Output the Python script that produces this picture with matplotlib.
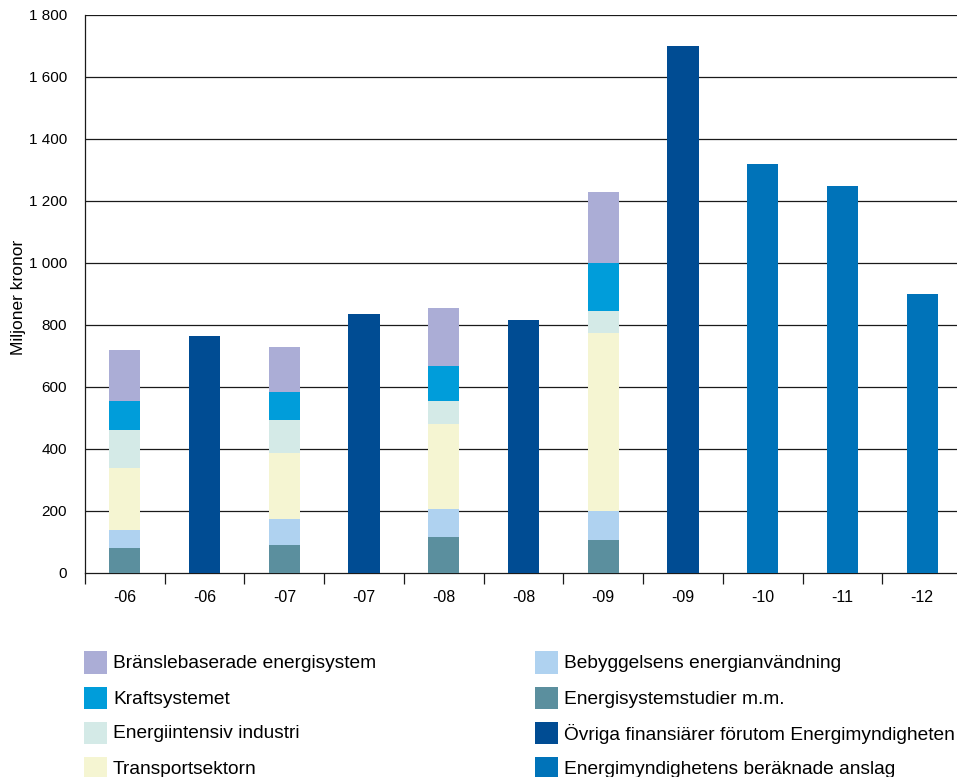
import matplotlib
matplotlib.use("Agg")
import matplotlib.pyplot as plt
from matplotlib.patches import Rectangle
import numpy as np

plt.rcParams['font.family'] = ['Liberation Sans', 'DejaVu Sans']

# Categories along the x axis
labels = ["-06", "-06", "-07", "-07", "-08", "-08", "-09", "-09", "-10", "-11", "-12"]

# Stacked bars (program areas) at positions 0, 2, 4, 6
stack_pos = [0, 2, 4, 6]
energisystemstudier = [80, 90, 116, 106]
bebyggelsen = [58, 84, 91, 93]
transport = [200, 212, 273, 574]
energiintensiv = [122, 106, 75, 72]
kraftsystemet = [95, 91, 113, 156]
branslebaserade = [163, 146, 187, 229]

# Other funders, at positions 1, 3, 5, 7
ovriga_pos = [1, 3, 5, 7]
ovriga = [764, 835, 815, 1700]

# Agency's estimated appropriation, at positions 8, 9, 10
anslag_pos = [8, 9, 10]
anslag = [1320, 1250, 900]

series = [
    ("Energisystemstudier m.m.", energisystemstudier, "#5b8f9e"),
    ("Bebyggelsens energianvändning", bebyggelsen, "#afd2f0"),
    ("Transportsektorn", transport, "#f5f5d2"),
    ("Energiintensiv industri", energiintensiv, "#d4eae7"),
    ("Kraftsystemet", kraftsystemet, "#009dda"),
    ("Bränslebaserade energisystem", branslebaserade, "#abadd6"),
]
c_ovriga = "#004c93"
c_anslag = "#0073b9"

W, H = 957, 777
fig = plt.figure(figsize=(W / 100, H / 100), dpi=100)
ax = fig.add_axes([85 / W, (H - 573) / H, 877 / W, 558 / H])

bw = 0.39
bottom = np.zeros(len(stack_pos))
for name, vals, col in series:
    ax.bar(stack_pos, vals, bw, bottom=bottom, color=col, linewidth=0, zorder=3)
    bottom += np.array(vals)
ax.bar(ovriga_pos, ovriga, bw, color=c_ovriga, linewidth=0, zorder=3)
ax.bar(anslag_pos, anslag, bw, color=c_anslag, linewidth=0, zorder=3)

ax.set_xlim(-0.5, len(labels) - 0.5)
ax.set_ylim(0, 1800)

yt = np.arange(0, 1801, 200)
ax.set_yticks(yt)
ax.set_yticklabels([f"{v:,}".replace(",", " ") for v in yt])
ax.tick_params(axis="y", length=0, pad=13, labelsize=11)
for v in yt[1:]:
    ax.axhline(v, color="#1a1a1a", lw=0.9, zorder=1)

ax.set_xticks(np.arange(-0.5, len(labels) + 0.5, 1.0))
ax.set_xticklabels([])
ax.set_xticks(np.arange(len(labels)), minor=True)
ax.set_xticklabels(labels, minor=True)
ax.tick_params(axis="x", which="major", length=8, width=0.9, color="#1a1a1a")
ax.tick_params(axis="x", which="minor", length=0, pad=12, labelsize=11.5)

for s in ["top", "right"]:
    ax.spines[s].set_visible(False)
for s in ["left", "bottom"]:
    ax.spines[s].set_color("#1a1a1a")
    ax.spines[s].set_linewidth(0.9)

fig.text(19 / W, 1 - 297 / H, "Miljoner kronor", rotation=90, ha="center", va="center", fontsize=12.5)

# Legend laid out in two columns
legend_cols = [
    [("Bränslebaserade energisystem", "#abadd6"), ("Kraftsystemet", "#009dda"),
     ("Energiintensiv industri", "#d4eae7"), ("Transportsektorn", "#f5f5d2")],
    [("Bebyggelsens energianvändning", "#afd2f0"), ("Energisystemstudier m.m.", "#5b8f9e"),
     ("Övriga finansiärer förutom Energimyndigheten", c_ovriga),
     ("Energimyndighetens beräknade anslag", c_anslag)],
]
col_x = [84, 535]
row_y = [662.5, 698, 733, 768]
sq = 22.5
for cx, entries in zip(col_x, legend_cols):
    for ry, (txt, col) in zip(row_y, entries):
        fig.add_artist(Rectangle((cx / W, 1 - (ry + sq / 2) / H), sq / W, sq / H,
                                 transform=fig.transFigure, color=col, lw=0))
        fig.text((cx + sq + 6.5) / W, 1 - (ry + 1) / H, txt, ha="left", va="center", fontsize=13.8)

fig.savefig("out.png", dpi=100)
